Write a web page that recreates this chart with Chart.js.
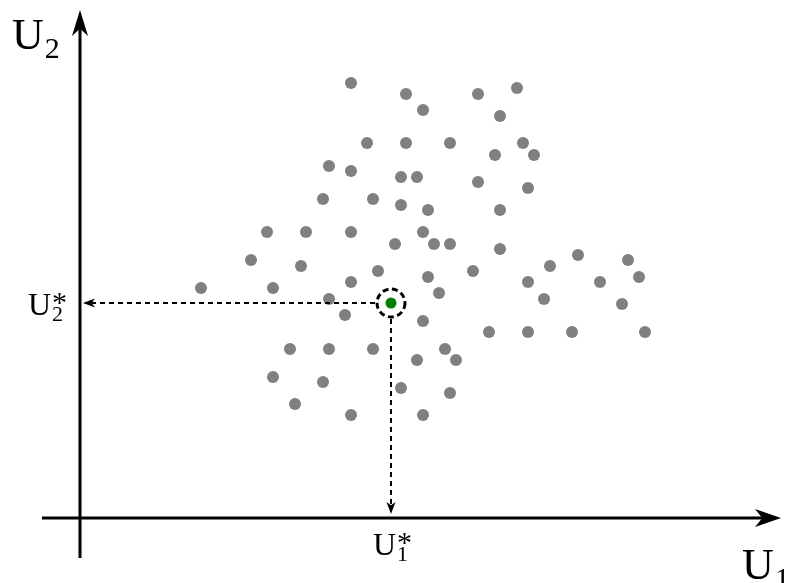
<!DOCTYPE html>
<html>
<head>
<meta charset="utf-8">
<script src="https://cdn.jsdelivr.net/npm/chart.js@4.4.1/dist/chart.umd.min.js"></script>
<style>
	html, body { margin: 0; padding: 0; background: #fff; }
	#wrap { width: 792px; height: 583px; position: relative; }
</style>
</head>
<body>
<div id="wrap"><canvas id="myChart"></canvas></div>
<script>
// sample points, units of the U1 / U2 axes (origin = axis crossing)
const u1Values = [
	27.1, 32.6, 34.3, 39.8, 43.7, 42.0, 28.7, 32.6, 37.0, 44.3,
	41.5, 45.4, 24.9, 27.1, 32.1, 33.7, 39.8, 44.8, 24.3, 29.3,
	32.1, 34.8, 42.0, 18.7, 22.6, 27.1, 34.3, 31.5, 35.4, 37.0,
	42.0, 17.1, 22.1, 29.8, 34.8, 39.3, 47.0, 49.8, 54.8, 12.1,
	19.3, 27.1, 44.8, 52.0, 55.9, 24.9, 35.9, 46.4, 54.2, 26.5,
	34.3, 40.9, 44.8, 49.2, 56.5, 21.0, 24.9, 29.3, 36.5, 33.7,
	37.6, 19.3, 24.3, 32.1, 37.0, 21.5, 27.1, 34.3
];
const u2Values = [
	43.5, 42.4, 40.8, 42.4, 43.0, 40.2, 37.5, 37.5, 37.5, 37.5,
	36.3, 36.3, 35.2, 34.7, 34.1, 34.1, 33.6, 33.0, 31.9, 31.9,
	31.3, 30.8, 30.8, 28.6, 28.6, 28.6, 28.6, 27.4, 27.4, 27.4,
	26.9, 25.8, 25.2, 24.7, 24.1, 24.7, 25.2, 26.3, 25.8, 23.0,
	23.0, 23.6, 23.6, 23.6, 24.1, 21.9, 22.5, 21.9, 21.4, 20.3,
	19.7, 18.6, 18.6, 18.6, 18.6, 16.9, 16.9, 16.9, 16.9, 15.8,
	15.8, 14.1, 13.6, 13.0, 12.5, 11.4, 10.3, 10.3
];
// the chosen point (U1*, U2*)
const optimum = [31.1, 21.5];
// axis extents (tail, arrow tip)
const u1AxisRange = [-3.8, 70.1];
const u2AxisRange = [-4.0, 50.8];

const labelFont = '"Liberation Serif", "DejaVu Serif", serif';

const points = u1Values.map((x, i) => ({x, y: u2Values[i]}));

function drawHead(c, x1, y1, x2, y2, len, half) {
	const ang = Math.atan2(y2 - y1, x2 - x1);
	const cos = Math.cos(ang), sin = Math.sin(ang);
	c.beginPath();
	c.moveTo(x2, y2);
	c.lineTo(x2 - len * cos - half * sin, y2 - len * sin + half * cos);
	c.lineTo(x2 - len * 0.72 * cos, y2 - len * 0.72 * sin);
	c.lineTo(x2 - len * cos + half * sin, y2 - len * sin - half * cos);
	c.closePath();
	c.fill();
}

function label(c, x, y, main, sub, star, size) {
	c.textBaseline = 'alphabetic';
	c.textAlign = 'left';
	c.font = size + 'px ' + labelFont;
	c.fillText(main, x, y);
	const w = c.measureText(main).width;
	c.font = Math.round(size * 0.68) + 'px ' + labelFont;
	c.fillText(sub, x + w + 1, y + size * 0.2);
	if (star) {
		c.font = Math.round(size * 0.95) + 'px ' + labelFont;
		c.fillText('*', x + w + 1, y - size * 0.08);
	}
}

const overlay = {
	id: 'overlay',
	afterDatasetsDraw(chart) {
		const c = chart.ctx;
		const xs = chart.scales.x, ys = chart.scales.y;
		const ox = xs.getPixelForValue(0), oy = ys.getPixelForValue(0);
		c.save();
		c.strokeStyle = '#000';
		c.fillStyle = '#000';

		// axes
		c.lineWidth = 3;
		const xTail = xs.getPixelForValue(u1AxisRange[0]);
		const xTip = xs.getPixelForValue(u1AxisRange[1]);
		const yTail = ys.getPixelForValue(u2AxisRange[0]);
		const yTip = ys.getPixelForValue(u2AxisRange[1]);
		c.beginPath();
		c.moveTo(xTail, oy); c.lineTo(xTip - 18, oy);
		c.moveTo(ox, yTail); c.lineTo(ox, yTip + 18);
		c.stroke();
		drawHead(c, xTail, oy, xTip, oy, 26, 9);
		drawHead(c, ox, yTail, ox, yTip, 26, 8);

		// dashed guides from the chosen point
		const px = xs.getPixelForValue(optimum[0]);
		const py = ys.getPixelForValue(optimum[1]);
		const r = 14;
		c.lineWidth = 2;
		c.setLineDash([5, 4]);
		c.beginPath();
		c.moveTo(px - r - 2, py); c.lineTo(ox + 12, py);
		c.moveTo(px, py + r + 2); c.lineTo(px, oy - 12);
		c.stroke();
		c.setLineDash([]);
		drawHead(c, px, py, ox + 3, py, 12, 4.5);
		drawHead(c, px, py, px, oy - 4, 12, 4.5);

		c.lineWidth = 3;
		c.setLineDash([6, 3.5]);
		c.beginPath();
		c.arc(px, py, r, 0, Math.PI * 2);
		c.stroke();
		c.setLineDash([]);

		// labels
		label(c, 12, 49, 'U', '2', false, 44);
		label(c, 742, 579, 'U', '1', false, 44);
		label(c, 28, 315, 'U', '2', true, 32);
		label(c, 373, 555, 'U', '1', true, 32);
		c.restore();
	}
};

const ctx = document.getElementById('myChart');
const myChart = new Chart(ctx, {
	type: 'scatter',
	data: {
		datasets: [{
			data: points,
			backgroundColor: '#808080',
			borderWidth: 0,
			pointRadius: 6,
			pointHoverRadius: 6
		}, {
			data: [{x: optimum[0], y: optimum[1]}],
			backgroundColor: '#008000',
			borderWidth: 0,
			pointRadius: 5.5,
			pointHoverRadius: 5.5
		}]
	},
	options: {
		responsive: true,
		maintainAspectRatio: false,
		animation: false,
		layout: { padding: 0, autoPadding: false },
		plugins: { legend: { display: false }, tooltip: { enabled: false } },
		scales: {
			x: { type: 'linear', min: -8, max: 71.2, display: false },
			y: { type: 'linear', min: -6.5, max: 51.8, display: false }
		}
	},
	plugins: [overlay]
});
</script>
</body>
</html>
